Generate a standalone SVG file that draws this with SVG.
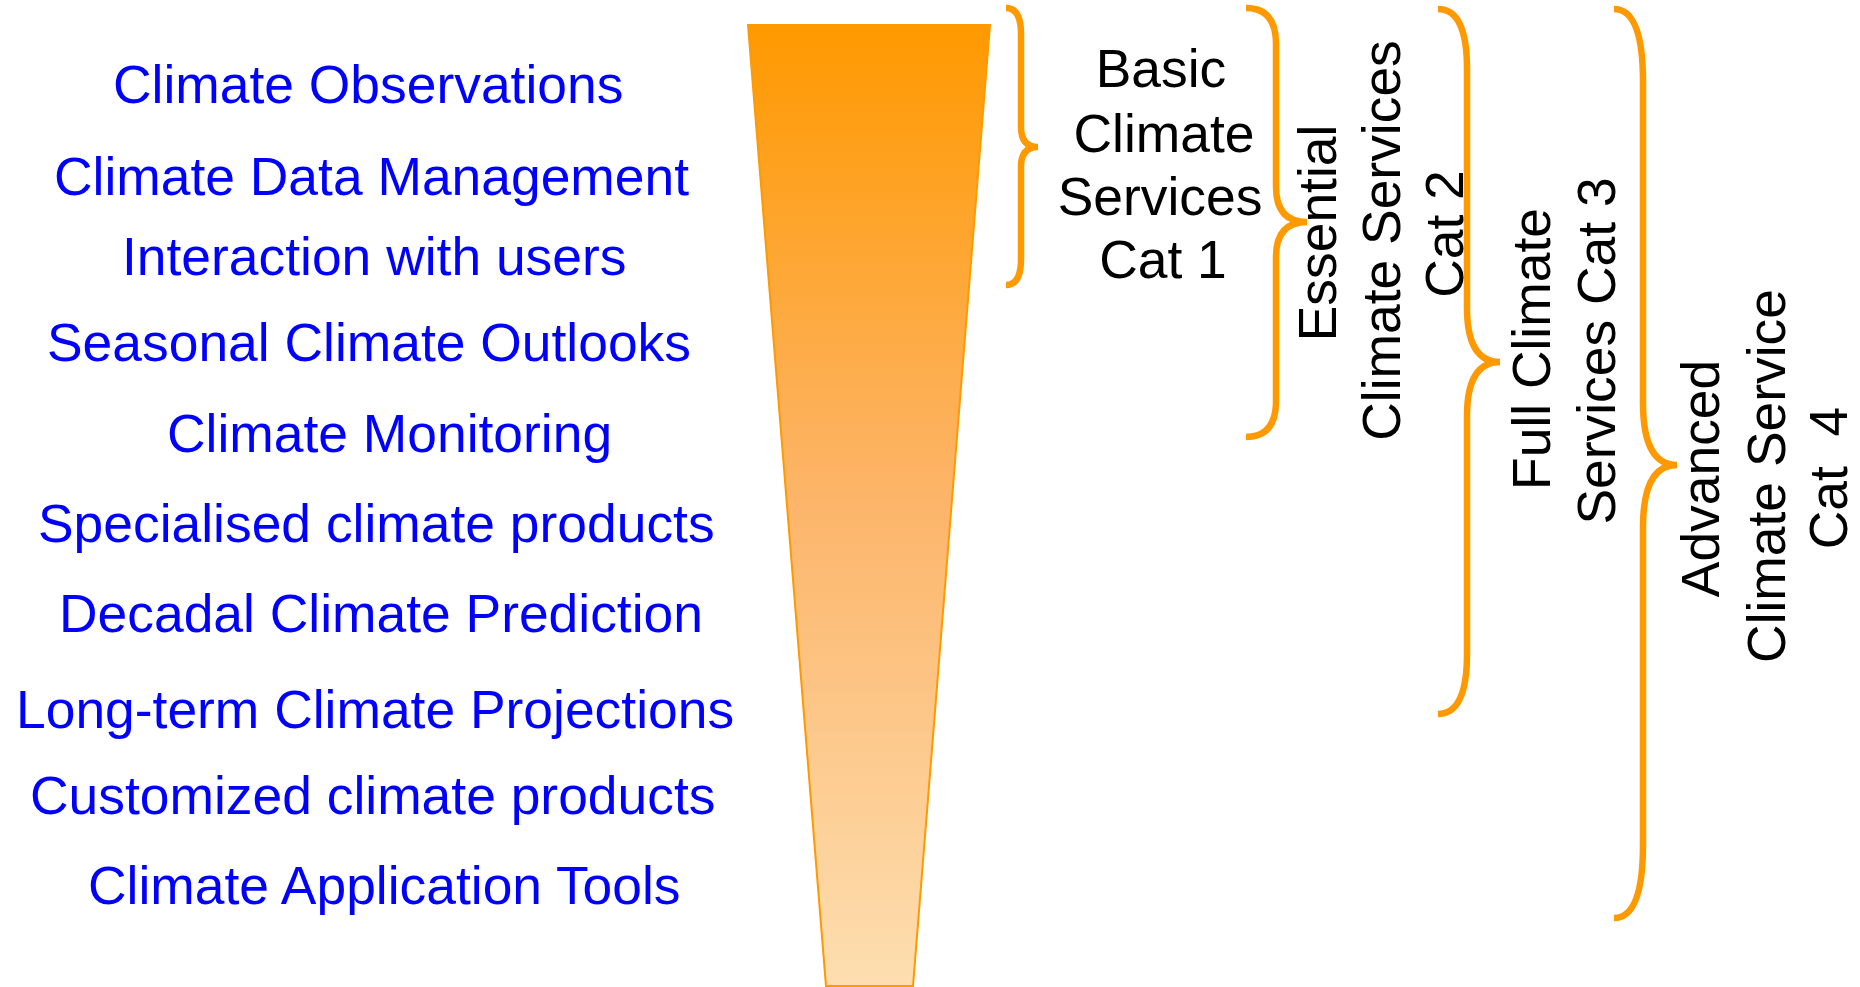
<svg xmlns="http://www.w3.org/2000/svg" width="1860" height="987" viewBox="0 0 1860 987">
  <style>
    .item { font-family: "Liberation Sans", Arial, sans-serif; font-size: 53.4px; fill: #0000FF; }
    .cat { font-family: "Liberation Sans", Arial, sans-serif; font-size: 53.4px; fill: #000000; text-anchor: middle; }
    .brace { fill: none; stroke: #FF9900; stroke-width: 6.5; }
  </style>
  <defs>
    <linearGradient id="funnelFill" x1="0" y1="0" x2="0" y2="1">
      <stop offset="0" stop-color="#FF9900"/>
      <stop offset="0.5" stop-color="#FCB56A"/>
      <stop offset="1" stop-color="#FDDEB0"/>
    </linearGradient>
  </defs>
  <rect width="1860" height="987" fill="#FFFFFF"/>

  <!-- service list -->
  <g id="service-list">
    <text class="item" x="113" y="103">Climate Observations</text>
    <text class="item" x="54" y="195">Climate Data Management</text>
    <text class="item" x="122" y="275">Interaction with users</text>
    <text class="item" x="47" y="361">Seasonal Climate Outlooks</text>
    <text class="item" x="167" y="452">Climate Monitoring</text>
    <text class="item" x="38" y="542">Specialised climate products</text>
    <text class="item" x="59" y="632">Decadal Climate Prediction</text>
    <text class="item" x="16" y="728">Long-term Climate Projections</text>
    <text class="item" x="30" y="814">Customized climate products</text>
    <text class="item" x="88" y="904">Climate Application Tools</text>
  </g>

  <!-- funnel -->
  <g id="funnel">
    <polygon points="748,25 990,25 913,986 826,986" fill="url(#funnelFill)" stroke="#FF9900" stroke-width="2"/>
  </g>

  <!-- category braces -->
  <g id="braces">
    <path class="brace" d="M1006,8 Q1021,8 1021,34 L1021,127 Q1021,147 1038,147 Q1021,147 1021,167 L1021,259 Q1021,285 1006,285"/>
    <path class="brace" d="M1246,8 Q1276,8 1276,44 L1276,187 Q1276,222 1307,222 Q1276,222 1276,257 L1276,401 Q1276,437 1246,437"/>
    <path class="brace" d="M1438,9 Q1467,9 1467,69 L1467,308 Q1467,362 1500,362 Q1467,362 1467,416 L1467,654 Q1467,714 1438,714"/>
    <path class="brace" d="M1614,9 Q1643,9 1643,82 L1643,403 Q1643,465 1677,465 Q1643,465 1643,527 L1643,845 Q1643,918 1614,918"/>
  </g>

  <!-- category 1 -->
  <g id="cat1">
    <text class="cat" x="1161" y="87">Basic</text>
    <text class="cat" x="1164" y="152">Climate</text>
    <text class="cat" x="1160" y="215">Services</text>
    <text class="cat" x="1163" y="278">Cat 1</text>
  </g>

  <!-- category 2 -->
  <g id="cat2">
    <text class="cat" transform="translate(1336,233) rotate(-90)">Essential</text>
    <text class="cat" transform="translate(1400,240.5) rotate(-90)">Climate Services</text>
    <text class="cat" transform="translate(1463,234) rotate(-90)">Cat 2</text>
  </g>

  <!-- category 3 -->
  <g id="cat3">
    <text class="cat" transform="translate(1550,349) rotate(-90)">Full Climate</text>
    <text class="cat" transform="translate(1615,351) rotate(-90)">Services Cat 3</text>
  </g>

  <!-- category 4 -->
  <g id="cat4">
    <text class="cat" transform="translate(1719,478.5) rotate(-90)">Advanced</text>
    <text class="cat" transform="translate(1785,476) rotate(-90)">Climate Service</text>
    <text class="cat" transform="translate(1847,478) rotate(-90)" xml:space="preserve">Cat  4</text>
  </g>
</svg>
